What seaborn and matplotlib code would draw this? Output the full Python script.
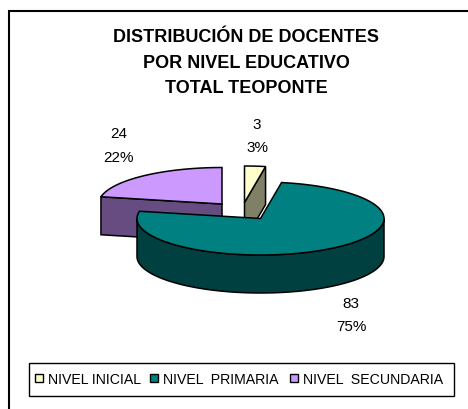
import numpy as np
import matplotlib
matplotlib.use("Agg")
import matplotlib.pyplot as plt
from matplotlib.patches import Polygon, Rectangle
import seaborn as sns

categories = ["NIVEL INICIAL", "NIVEL  PRIMARIA", "NIVEL  SECUNDARIA"]
values = [3, 83, 24]
percents = ["3%", "75%", "22%"]
top_colors = ["#FFFFCC", "#008080", "#CC99FF"]
wall_colors = ["#808066", "#004040", "#664C80"]

sns.set_theme(style="white")
plt.rcParams["font.family"] = ["Liberation Sans", "DejaVu Sans"]

W, H = 468, 410
fig = plt.figure(figsize=(W / 100, H / 100), dpi=100)
ax = fig.add_axes([0, 0, 1, 1])
ax.set_xlim(0, W)
ax.set_ylim(H, 0)
ax.axis("off")

RX, RY, DEPTH = 123.5, 36.5, 38
centers = [(244.5, 203.5), (260.5, 219.5), (222, 205)]
LW = 1.1


def pt(c, a, dy=0):
    return (c[0] + RX * np.sin(a), c[1] - RY * np.cos(a) + dy)


def arc(c, a0, a1, dy=0):
    n = max(int(abs(a1 - a0) / 0.03), 2)
    return [pt(c, a, dy) for a in np.linspace(a0, a1, n)]


# frame: runs off the right and bottom of the picture
ax.add_patch(Rectangle((9, 12), 480, 420, fc="white", ec="black", lw=1.5, zorder=0))

fractions = np.array(values) / sum(values)
edges = np.concatenate([[0], np.cumsum(fractions)]) * 2 * np.pi
a = [(edges[i], edges[i + 1]) for i in range(3)]

# third slice: cut wall, then top
c = centers[2]
a0, a1 = a[2]
ax.add_patch(Polygon([c, pt(c, a0), pt(c, a0, DEPTH), (c[0], c[1] + DEPTH)],
                     fc=wall_colors[2], ec="black", lw=LW, zorder=1))
ax.add_patch(Polygon([c] + arc(c, a0, a1), fc=top_colors[2], ec="black", lw=LW, zorder=2))

# first slice: cut wall, then top
c = centers[0]
a0, a1 = a[0]
ax.add_patch(Polygon([c, pt(c, a1), pt(c, a1, DEPTH), (c[0], c[1] + DEPTH)],
                     fc=wall_colors[0], ec="black", lw=LW, zorder=3))
ax.add_patch(Polygon([c] + arc(c, a0, a1), fc=top_colors[0], ec="black", lw=LW, zorder=4))

# second slice: outer wall, then top
c = centers[1]
a0, a1 = a[1]
ws, we = max(a0, np.pi / 2), min(a1, 3 * np.pi / 2)
ax.add_patch(Polygon(arc(c, ws, we) + arc(c, we, ws, DEPTH),
                     fc=wall_colors[1], ec="black", lw=LW, zorder=5))
ax.add_patch(Polygon([c] + arc(c, a0, a1), fc=top_colors[1], ec="black", lw=LW, zorder=6))

# title
ax.text(246, 63, "DISTRIBUCIÓN DE DOCENTES\nPOR NIVEL EDUCATIVO\nTOTAL TEOPONTE",
        ha="center", va="center", fontsize=12.95, fontweight="bold", color="black",
        linespacing=1.66, zorder=10)

# data labels
label_pos = [(257, 136.5), (351, 315.5), (119, 146)]
for v, p, (x, y) in zip(values, percents, label_pos):
    ax.text(x, y, f"{v}\n{p}", ha="center", va="center", fontsize=11, color="black",
            linespacing=1.85, zorder=10)

# legend
ax.add_patch(Rectangle((29, 363.5), 425, 33, fc="white", ec="black", lw=1.0, zorder=8))
lx = [35, 150, 290]
for name, col, x in zip(categories, top_colors, lx):
    ax.add_patch(Rectangle((x, 375), 8, 8, fc=col, ec="black", lw=1.0, zorder=9))
    ax.text(x + 13, 380, name, ha="left", va="center", fontsize=10.2, color="black", zorder=10)

fig.savefig("out.png", dpi=100)
